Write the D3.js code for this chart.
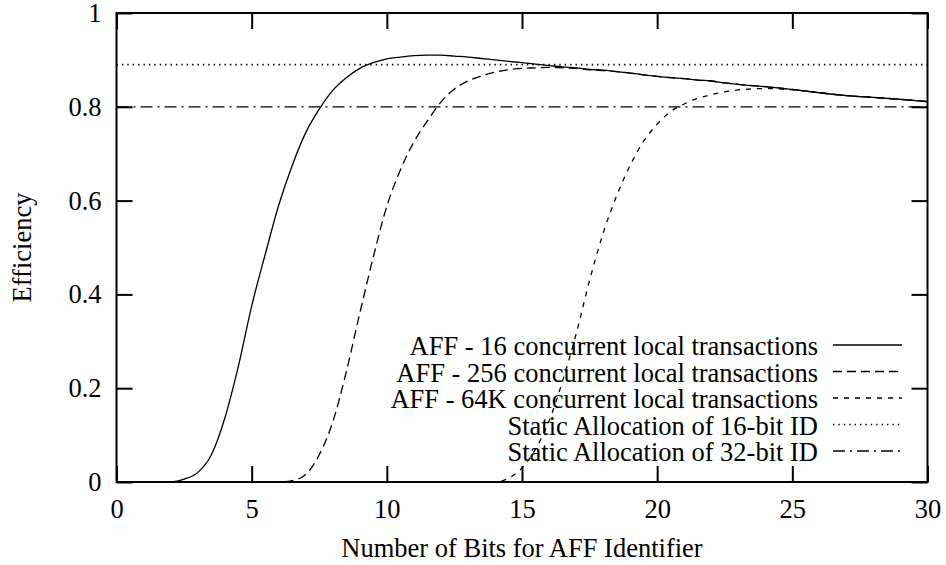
<!DOCTYPE html>
<html>
<head>
<meta charset="utf-8">
<script src="https://cdn.jsdelivr.net/npm/d3@7"></script>
<style>
  body { margin: 0; background: #fff; }
</style>
</head>
<body>
<div id="chart"></div>
<script>
// x positions (number of bits) shared by the three AFF curves
const bits = [0, 1, 2, 2.5, 3, 3.5, 4, 4.5, 5, 5.5, 6, 6.5, 7, 7.5, 8, 8.5, 9, 9.5,
  10, 10.5, 11, 11.5, 12, 12.5, 13, 13.5, 14, 14.5, 15, 15.5, 16, 16.5, 17, 17.5,
  18, 18.5, 19, 19.5, 20, 20.5, 21, 21.5, 22, 22.5, 23, 23.5, 24, 25, 26, 27, 28, 29, 30];

const aff16 = [0, 0, 0, 0.006, 0.02, 0.057, 0.135, 0.245, 0.375, 0.485, 0.59, 0.675,
  0.745, 0.795, 0.835, 0.862, 0.882, 0.894, 0.902, 0.906, 0.909, 0.91, 0.91, 0.908,
  0.906, 0.903, 0.9, 0.897, 0.894, 0.891, 0.888, 0.885, 0.883, 0.88, 0.878, 0.875,
  0.872, 0.868, 0.865, 0.862, 0.86, 0.857, 0.855, 0.851, 0.848, 0.845, 0.843,
  0.837, 0.83, 0.824, 0.82, 0.816, 0.811];

const aff256 = [0, 0, 0, 0, 0, 0, 0, 0, 0, 0, 0, 0.003, 0.016, 0.058, 0.128, 0.235,
  0.36, 0.48, 0.588, 0.665, 0.725, 0.77, 0.81, 0.838, 0.855, 0.866, 0.874, 0.879,
  0.882, 0.883, 0.884, 0.883, 0.882, 0.879, 0.877, 0.875, 0.872, 0.868, 0.865,
  0.862, 0.86, 0.857, 0.855, 0.851, 0.848, 0.845, 0.843, 0.837, 0.83, 0.824, 0.82,
  0.816, 0.811];

const aff64k = [0, 0, 0, 0, 0, 0, 0, 0, 0, 0, 0, 0, 0, 0, 0, 0, 0, 0, 0, 0, 0, 0, 0,
  0, 0, 0, 0, 0.008, 0.03, 0.07, 0.13, 0.215, 0.315, 0.43, 0.53, 0.61, 0.675, 0.727,
  0.763, 0.79, 0.806, 0.818, 0.826, 0.832, 0.836, 0.838, 0.839, 0.836, 0.83, 0.824,
  0.82, 0.816, 0.811];

// static allocation efficiencies (constant over the x range)
const static16 = 0.89;
const static32 = 0.8;

const xTicks = [0, 5, 10, 15, 20, 25, 30];
const yTicks = [0, 0.2, 0.4, 0.6, 0.8, 1];

const seriesLabels = [
  "AFF - 16 concurrent local transactions",
  "AFF - 256 concurrent local transactions",
  "AFF - 64K concurrent local transactions",
  "Static Allocation of 16-bit ID",
  "Static Allocation of 32-bit ID"
];
const seriesDash = [null, "9,5", "5,6", "1.4,4", "12,5,2,5"];
const seriesWidth = [1.3, 1.3, 1.3, 1.6, 1.3];

const width = 946, height = 565;
const margin = { top: 13, right: 18.5, bottom: 83, left: 116.5 };
const fontSize = 26.5;
const fontFamily = "'Liberation Serif', 'Times New Roman', Tinos, serif";

const svg = d3.select("#chart").append("svg")
  .attr("width", width)
  .attr("height", height);

const x = d3.scaleLinear().domain([0, 30]).range([margin.left, width - margin.right]);
const y = d3.scaleLinear().domain([0, 1]).range([height - margin.bottom, margin.top]);

const tickLen = 16;

// axes with inward ticks, mirrored on top and right
const xAxis = d3.axisBottom(x).tickValues(xTicks).tickSize(-tickLen).tickPadding(17.5)
  .tickFormat(d3.format("d"));
const yAxis = d3.axisLeft(y).tickValues(yTicks).tickSize(-tickLen).tickPadding(15)
  .tickFormat(d => d === 0 || d === 1 ? d3.format("d")(d) : d3.format(".1f")(d));

const gx = svg.append("g").attr("transform", `translate(0,${y(0)})`).call(xAxis);
const gy = svg.append("g").attr("transform", `translate(${x(0)},0)`).call(yAxis);
const gxTop = svg.append("g").attr("transform", `translate(0,${y(1)})`)
  .call(d3.axisTop(x).tickValues(xTicks).tickSize(-tickLen).tickFormat(""));
const gyRight = svg.append("g").attr("transform", `translate(${x(30)},0)`)
  .call(d3.axisRight(y).tickValues(yTicks).tickSize(-tickLen).tickFormat(""));

[gx, gy, gxTop, gyRight].forEach(g => {
  g.select(".domain").remove();
  g.selectAll(".tick line").attr("stroke", "#000").attr("stroke-width", 2);
  g.selectAll("text").style("font-size", fontSize + "px")
    .style("font-family", fontFamily).attr("fill", "#000");
});

// curves
const line = d3.line()
  .x(d => x(d[0]))
  .y(d => y(d[1]))
  .curve(d3.curveMonotoneX);

const curves = [
  bits.map((b, i) => [b, aff16[i]]),
  bits.map((b, i) => [b, aff256[i]]),
  bits.map((b, i) => [b, aff64k[i]]),
  x.domain().map(b => [b, static16]),
  x.domain().map(b => [b, static32])
];

svg.append("g").selectAll("path")
  .data(curves)
  .join("path")
  .attr("d", line)
  .attr("fill", "none")
  .attr("stroke", "#000")
  .attr("stroke-width", (d, i) => seriesWidth[i])
  .attr("stroke-dasharray", (d, i) => seriesDash[i]);

// frame
svg.append("rect")
  .attr("x", x(0))
  .attr("y", y(1))
  .attr("width", x(30) - x(0))
  .attr("height", y(0) - y(1))
  .attr("fill", "none")
  .attr("stroke", "#000")
  .attr("stroke-width", 2);

// legend
const legendRight = 818, legendTop = 345, rowH = 26.5;
const legend = svg.append("g").selectAll("g")
  .data(seriesLabels)
  .join("g")
  .attr("transform", (d, i) => `translate(0,${legendTop + i * rowH})`);

legend.append("text")
  .attr("x", legendRight)
  .attr("y", 1)
  .attr("dy", "0.35em")
  .attr("text-anchor", "end")
  .style("font-size", fontSize + "px")
  .style("font-family", fontFamily)
  .text(d => d);

legend.append("line")
  .attr("x1", 833)
  .attr("x2", 902)
  .attr("stroke", "#000")
  .attr("stroke-width", (d, i) => seriesWidth[i])
  .attr("stroke-dasharray", (d, i) => seriesDash[i]);

// axis titles
svg.append("text")
  .attr("x", (x(0) + x(30)) / 2)
  .attr("y", 557)
  .attr("text-anchor", "middle")
  .style("font-size", fontSize + "px")
  .style("font-family", fontFamily)
  .text("Number of Bits for AFF Identifier");

svg.append("text")
  .attr("transform", `translate(31,${(y(0) + y(1)) / 2}) rotate(-90)`)
  .attr("text-anchor", "middle")
  .style("font-size", fontSize + "px")
  .style("font-family", fontFamily)
  .text("Efficiency");
</script>
</body>
</html>
